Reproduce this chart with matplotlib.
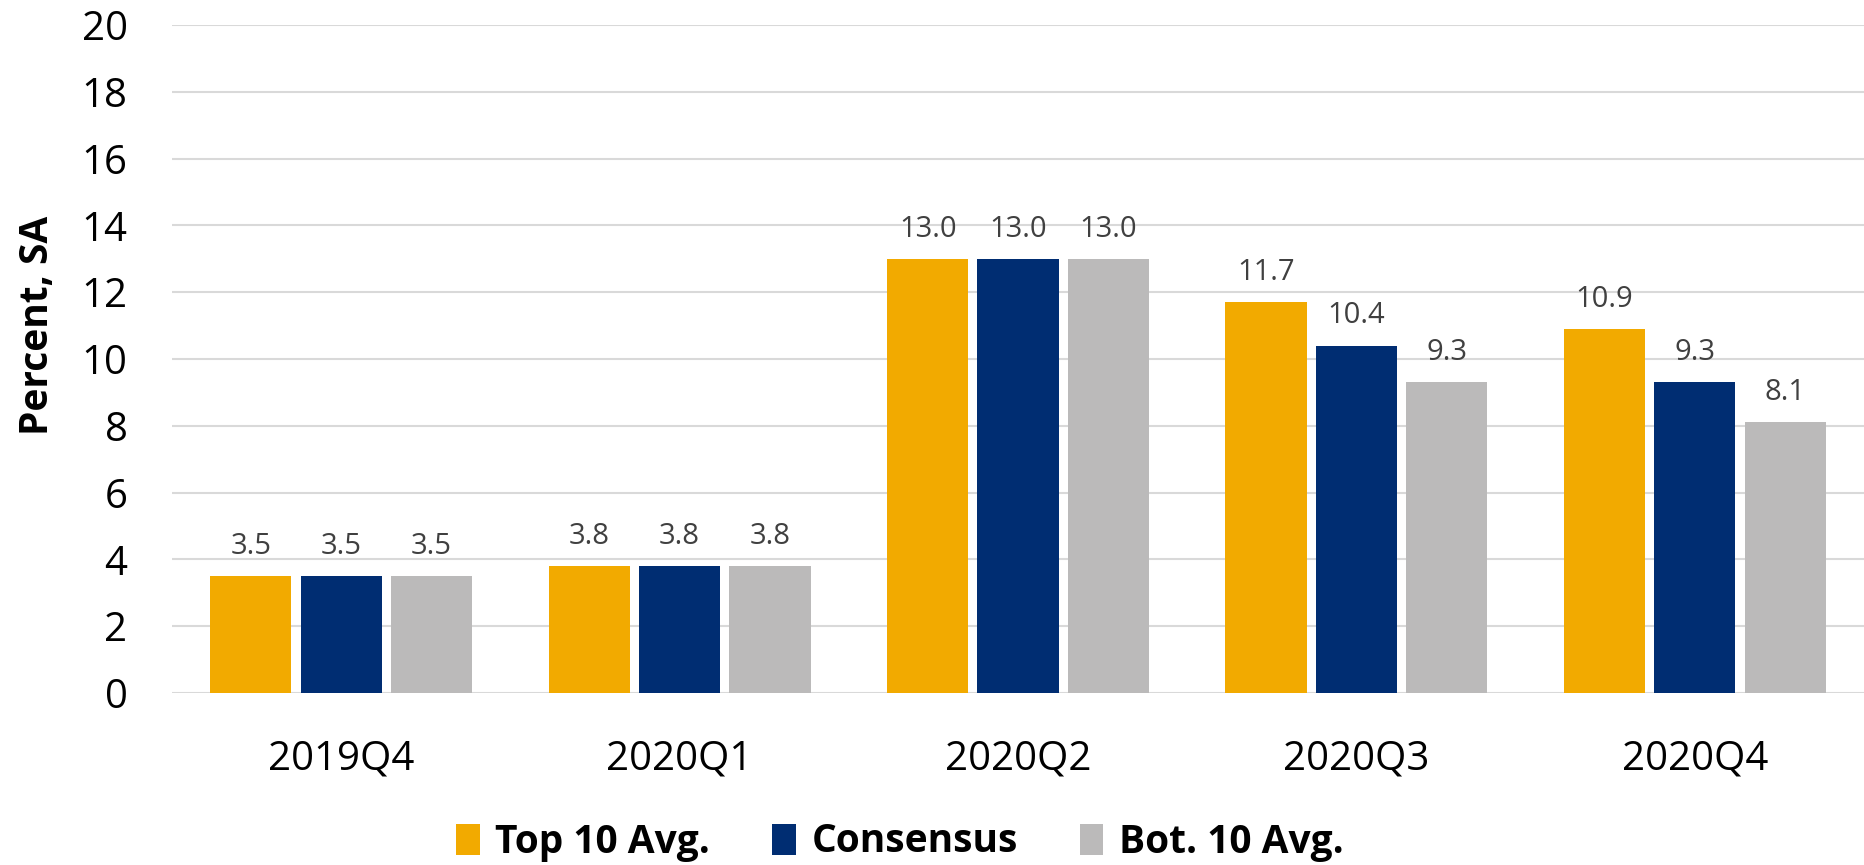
import matplotlib
matplotlib.use("Agg")
import matplotlib.pyplot as plt
import numpy as np

categories = ["2019Q4", "2020Q1", "2020Q2", "2020Q3", "2020Q4"]
series_names = ["Top 10 Avg.", "Consensus", "Bot. 10 Avg."]
top10 = [3.5, 3.8, 13.0, 11.7, 10.9]
consensus = [3.5, 3.8, 13.0, 10.4, 9.3]
bot10 = [3.5, 3.8, 13.0, 9.3, 8.1]
colors = ["#F2AA00", "#002D72", "#BBBABA"]
yticks = [0, 2, 4, 6, 8, 10, 12, 14, 16, 18, 20]

plt.rcParams['font.family'] = ['Open Sans', 'DejaVu Sans']

fig = plt.figure(figsize=(18.64, 8.65), dpi=100)
ax = fig.add_axes([172/1864, 1-693/865, 1-172/1864, (693-25)/865])

x = np.arange(len(categories))
width = 0.24
step = 0.267
for i, (vals, name, c) in enumerate(zip([top10, consensus, bot10], series_names, colors)):
    bars = ax.bar(x + (i-1)*step, vals, width, color=c, label=name, zorder=3)
    ax.bar_label(bars, labels=[f"{v:.1f}" for v in vals], padding=11,
                 fontsize=21, color="#404040")

ax.set_xlim(-0.5, len(categories)-0.5)
ax.set_ylim(0, 20)
ax.set_yticks(yticks)
ax.set_xticks(x)
ax.set_xticklabels(categories, fontsize=29)
ax.tick_params(axis='y', labelsize=29, length=0, pad=32)
ax.tick_params(axis='x', length=0, pad=33)
ax.grid(axis='y', color="#D9D9D9", linewidth=1.5, zorder=0)
for s in ax.spines.values():
    s.set_visible(False)
ax.set_ylabel("Percent, SA", fontsize=28, fontweight='bold')
ax.yaxis.set_label_coords(-0.068, 0.55)

fig.legend(loc='center', bbox_to_anchor=(900/1864, 1-842/865), ncol=3,
           frameon=False,
           prop={'weight': 'bold', 'size': 28},
           handlelength=0.6, handleheight=0.85, handletextpad=0.4, columnspacing=1.6)

fig.savefig("out.png", dpi=100)
